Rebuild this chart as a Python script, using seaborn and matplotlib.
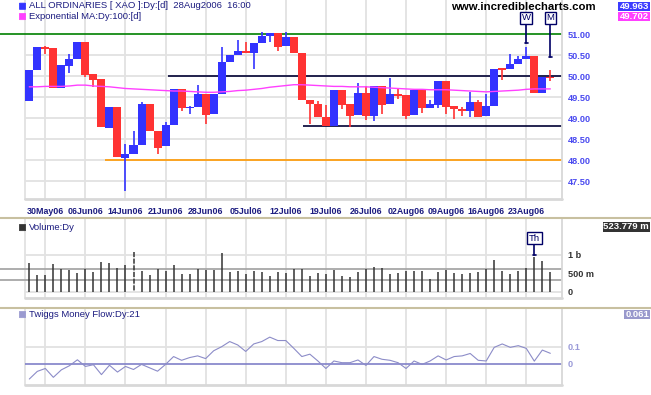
import numpy as np
import pandas as pd
import matplotlib.pyplot as plt
import matplotlib.patches as mpatches
from matplotlib.lines import Line2D
import seaborn as sns

sns.set_theme(style="white")
plt.rcParams["font.family"] = ["Liberation Sans", "DejaVu Sans"]

# ASX trading days 26 May 2006 - 28 Aug 2006 (12 Jun holiday)
dates = pd.bdate_range("2006-05-26", "2006-08-28")
dates = dates[dates != pd.Timestamp("2006-06-12")]
day_labels = list(dates.strftime("%d%b%y"))

tick_labels = ["30May06", "06Jun06", "14Jun06", "21Jun06", "28Jun06", "05Jul06",
               "12Jul06", "19Jul06", "26Jul06", "02Aug06", "09Aug06", "16Aug06",
               "23Aug06"]

opens = [49.42, 50.15, 50.68, 50.67, 49.72, 50.25, 50.41, 50.82, 50.06, 49.94,
         48.77, 49.27, 48.06, 48.15, 48.37, 49.34, 48.70, 48.33, 48.84, 49.69,
         49.25, 49.28, 49.58, 49.11, 49.58, 50.34, 50.50, 50.60, 50.55, 50.79,
         50.95, 51.03, 50.72, 50.94, 50.56, 49.44, 49.34, 49.03, 48.82, 49.67,
         49.34, 49.08, 49.60, 49.06, 49.77, 49.34, 49.58, 49.56, 49.08, 49.67,
         49.25, 49.32, 49.89, 49.29, 49.22, 49.18, 49.39, 49.06, 49.29, 50.17,
         50.17, 50.29, 50.41, 50.48, 49.60, 49.98]
closes = [50.15, 50.70, 50.66, 49.72, 50.27, 50.41, 50.82, 50.03, 49.92, 48.79,
          49.27, 48.09, 48.15, 48.37, 49.34, 48.70, 48.30, 48.84, 49.69, 49.25,
          49.27, 49.58, 49.09, 49.58, 50.34, 50.50, 50.60, 50.55, 50.79, 50.95,
          51.03, 50.70, 50.94, 50.56, 49.44, 49.33, 49.03, 48.82, 49.67, 49.32,
          49.06, 49.60, 49.06, 49.77, 49.32, 49.58, 49.54, 49.06, 49.67, 49.25,
          49.34, 49.89, 49.27, 49.21, 49.18, 49.39, 49.03, 49.29, 50.17, 50.16,
          50.29, 50.41, 50.48, 49.60, 49.98, 49.96]
highs = [50.15, 50.70, 50.71, 50.67, 50.27, 50.53, 50.82, 50.82, 50.06, 49.94,
         49.27, 49.27, 48.39, 48.70, 49.39, 49.34, 48.70, 48.91, 49.69, 49.69,
         49.29, 49.79, 49.58, 49.58, 50.70, 50.50, 50.87, 50.82, 50.79, 51.06,
         51.03, 51.03, 51.06, 50.94, 50.56, 49.44, 49.41, 49.32, 49.67, 49.67,
         49.34, 49.84, 49.77, 49.77, 49.77, 49.96, 49.72, 49.56, 49.67, 49.67,
         49.44, 49.89, 49.89, 49.29, 49.28, 49.63, 49.44, 49.58, 50.17, 50.20,
         50.53, 50.48, 50.70, 50.48, 49.98, 50.15]
lows = [49.42, 50.15, 50.53, 49.72, 49.72, 50.08, 50.41, 49.99, 49.75, 48.79,
        48.77, 48.09, 47.28, 48.15, 48.37, 48.70, 48.15, 48.33, 48.84, 49.18,
        49.11, 49.28, 48.87, 49.11, 49.58, 50.34, 50.50, 50.55, 50.17, 50.79,
        50.82, 50.60, 50.72, 50.56, 49.44, 48.87, 49.03, 48.82, 48.82, 49.21,
        48.79, 49.08, 48.96, 48.94, 49.10, 49.34, 49.46, 48.98, 49.08, 49.13,
        49.25, 49.25, 49.11, 48.98, 49.06, 49.02, 49.03, 49.06, 49.29, 49.91,
        50.17, 50.29, 50.41, 49.60, 49.60, 49.89]
ema100 = [49.75, 49.75, 49.76, 49.76, 49.76, 49.77, 49.79, 49.79, 49.77, 49.76,
          49.75, 49.73, 49.71, 49.70, 49.69, 49.68, 49.67, 49.66, 49.65, 49.65,
          49.64, 49.63, 49.62, 49.62, 49.63, 49.64, 49.66, 49.67, 49.69, 49.71,
          49.74, 49.76, 49.78, 49.80, 49.80, 49.79, 49.78, 49.77, 49.76, 49.76,
          49.75, 49.75, 49.75, 49.74, 49.73, 49.72, 49.71, 49.70, 49.69, 49.69,
          49.68, 49.68, 49.68, 49.67, 49.66, 49.65, 49.64, 49.63, 49.64, 49.65,
          49.66, 49.67, 49.69, 49.70, 49.70, 49.70]
volume_m = [773, 445, 445, 745, 609, 591, 500, 609, 527, 800,
            773, 636, 727, 1073, 564, 445, 609, 564, 727, 473,
            473, 609, 591, 591, 1045, 536, 564, 473, 564, 545,
            418, 527, 509, 609, 609, 418, 500, 482, 591, 418,
            400, 527, 609, 664, 636, 473, 500, 564, 564, 564,
            336, 527, 591, 500, 473, 500, 527, 618, 864, 564,
            473, 564, 636, 936, 836, 524]
tmf = [-0.09, -0.045, -0.028, -0.08, -0.036, -0.012, 0.023, -0.016, -0.006, -0.064,
       -0.009, -0.049, -0.016, -0.034, -0.004, -0.024, -0.044, -0.004, 0.042, 0.02,
       0.036, 0.046, 0.03, 0.076, 0.10, 0.13, 0.11, 0.072, 0.116, 0.13,
       0.156, 0.136, 0.136, 0.09, 0.042, 0.056, 0.016, -0.028, 0.016, 0.006,
       0.006, 0.022, -0.01, 0.042, 0.026, 0.02, 0.006, -0.028, 0.016, -0.004,
       0.016, 0.046, 0.022, 0.042, 0.046, 0.06, 0.02, 0.016, 0.096, 0.116,
       0.096, 0.106, 0.09, 0.015, 0.08, 0.061]

# drawn horizontal lines: (price, first day)
h_lines = [(51.00, None, "#008000"), (50.00, 17.3, "#000033"),
           (48.82, 34.2, "#000033"), (48.00, 9.5, "#ff9900")]
vol_lines = [610, 311]

x = np.arange(len(dates))
tick_idx = [day_labels.index(t) for t in tick_labels]

W_PX, H_PX = 651, 395
STEP, X_FIRST = 8.016, 29.3
XL = (-X_FIRST / STEP, (562 - X_FIRST) / STEP)
X0 = (25 - X_FIRST) / STEP
GRID = "#e2e2e2"
NAVY = "#1c1c80"


def fx(px):
    return px / W_PX


def fy(py):
    return 1 - py / H_PX


fig = plt.figure(figsize=(6.51, 3.95), dpi=100)
fig.patch.set_facecolor("white")

ax_p = fig.add_axes([0, fy(200), fx(562), 200 / H_PX])
ax_v = fig.add_axes([0, fy(298), fx(562), 79 / H_PX])
ax_t = fig.add_axes([0, fy(385), fx(562), 77 / H_PX])


def panel(ax, ylim, hgrid, ticks, labels, color):
    ax.set_xlim(XL)
    ax.set_ylim(ylim)
    ax.set_facecolor("white")
    for s in ax.spines.values():
        s.set_visible(False)
    ax.spines["right"].set_visible(True)
    ax.spines["right"].set_color("#d8d8d8")
    ax.spines["right"].set_linewidth(1.3)
    for t in tick_idx:
        ax.axvline(t, color=GRID, lw=1.3, zorder=0)
    ax.axvline(X0, color=GRID, lw=1.3, zorder=0)
    ax.hlines(hgrid, X0, XL[1], color=GRID, lw=1.3, zorder=0)
    ax.plot([25 / 562, 1], [0.004, 0.004], transform=ax.transAxes,
            color="#d8d8d8", lw=2, clip_on=False, zorder=1)
    ax.yaxis.tick_right()
    ax.set_yticks(ticks, labels)
    ax.tick_params(axis="y", length=0, pad=4, labelsize=6.6, labelcolor=color)
    for lbl in ax.get_yticklabels():
        lbl.set_fontweight("bold")
    ax.set_xticks(tick_idx)
    ax.tick_params(axis="x", length=0, labelbottom=False)
    ax.set_xlabel("")
    ax.set_ylabel("")


# ---- price panel ----
price_ticks = [47.5, 48.0, 48.5, 49.0, 49.5, 50.0, 50.5, 51.0]
panel(ax_p, (47.055, 51.817), price_ticks[:-1], price_ticks,
      ["%.2f" % p for p in price_ticks], "#4a4af0")
ax_p.set_xticks(tick_idx, tick_labels)
ax_p.tick_params(axis="x", labelbottom=True, pad=5, labelsize=6.4,
                 labelcolor=NAVY)
for lbl in ax_p.get_xticklabels():
    lbl.set_fontweight("bold")

for level, start, col in h_lines:
    x_start = XL[0] if start is None else start
    ax_p.hlines(level, x_start, XL[1], color=col, lw=1.2, zorder=2)

o = np.array(opens)
c = np.array(closes)
up = c >= o
cols = np.where(up, "#3333ff", "#ff3333")
ax_p.vlines(x, lows, highs, colors=cols, lw=1.2, zorder=3)
body_low = np.minimum(o, c)
body_h = np.maximum(np.abs(c - o), 0.03)
ax_p.bar(x, body_h, bottom=body_low, width=1.0, color=cols, lw=0, zorder=4)

sns.lineplot(x=x, y=ema100, ax=ax_p, color="#ff40ff", lw=1.0, zorder=5,
             legend=False)
ax_p.set_xlabel("")
ax_p.set_ylabel("")


def flag(ax, xi, y_box, y_end, text, half_h):
    ax.plot([xi, xi], [y_box - half_h, y_end], color="#000066", lw=1.2, zorder=6)
    ax.plot([xi - 0.2, xi + 0.2], [y_end, y_end], color="#000066", lw=1.2, zorder=6)
    ax.text(xi, y_box, text, ha="center", va="center", fontsize=6.8,
            color="#000066", zorder=7,
            bbox=dict(boxstyle="square,pad=0.18", fc="white", ec="#000066", lw=1))


flag(ax_p, 62, 51.395, 50.786, "W", 0.12)
flag(ax_p, 65, 51.395, 50.45, "M", 0.12)

# ---- volume panel ----
panel(ax_v, (-172, 1981), [0, 1000], [0, 500, 1000], ["0", "500 m", "1 b"],
      "#333333")
ax_v.hlines(vol_lines, XL[0], XL[1], color="#a0a0a0", lw=1.2, zorder=2)
ax_v.vlines(x, 0, volume_m, colors="#333333", lw=1.1, zorder=3)
ax_v.vlines(13, 0, volume_m[13], colors="white", lw=1.2, zorder=3,
            linestyles=(0, (1, 3)))
flag(ax_v, 63, 1463, volume_m[63] + 60, "Th", 150)

# ---- twiggs money flow panel ----
panel(ax_t, (-0.125, 0.327), [0.1], [0, 0.1], ["0", "0.1"], "#9a9ad8")
ax_t.hlines(0, X0, XL[1], color="#8080c8", lw=1.2, zorder=2)
sns.lineplot(x=x, y=tmf, ax=ax_t, color="#8c8cc8", lw=0.8, zorder=3,
             legend=False)
ax_t.set_xlabel("")
ax_t.set_ylabel("")

# ---- panel separators ----
for yy in (218.5, 308.2):
    fig.add_artist(Line2D([0, 1], [fy(yy), fy(yy)], transform=fig.transFigure,
                          color="#c8c0a0", lw=1.5))

# ---- headers ----
def marker(px, py, col):
    fig.add_artist(mpatches.FancyBboxPatch(
        (fx(px), fy(py + 3)), 5 / W_PX, 5.5 / H_PX, transform=fig.transFigure,
        boxstyle="round,pad=0.001", fc=col, ec=col, lw=0.5))


marker(20, 6, "#3333ff")
fig.text(fx(29), fy(6), "ALL ORDINARIES [ XAO ]:Dy:[d]  28Aug2006  16:00",
         fontsize=6.8, color=NAVY, va="center", ha="left")
marker(20, 16.3, "#ff40ff")
fig.text(fx(29), fy(16.3), "Exponential MA:Dy:100:[d]",
         fontsize=6.8, color=NAVY, va="center", ha="left")
fig.text(fx(451), fy(7.5), "www.incrediblecharts.com", fontsize=8.2,
         fontweight="bold", color="black", va="center", ha="left")

marker(20, 227.3, "#333333")
fig.text(fx(29), fy(227.3), "Volume:Dy", fontsize=6.8, color=NAVY,
         va="center", ha="left")
marker(20, 314.3, "#9a9ad0")
fig.text(fx(29), fy(314.3), "Twiggs Money Flow:Dy:21", fontsize=6.8,
         color=NAVY, va="center", ha="left")


# ---- last value boxes ----
def value_box(x_left, y_top, y_bot, text, col):
    fig.add_artist(mpatches.Rectangle((fx(x_left), fy(y_bot)),
                                      (650 - x_left) / W_PX, (y_bot - y_top) / H_PX,
                                      transform=fig.transFigure, fc=col, ec="none"))
    fig.text(fx(649), fy((y_top + y_bot) / 2), text, fontsize=6.8,
             fontweight="bold", color="white", ha="right", va="center")


value_box(618, 2, 11.2, "%.3f" % 49.963, "#3c3cff")
value_box(618, 11.8, 21, "%.3f" % 49.702, "#ff40ff")
value_box(603, 221.7, 231.7, "523.779 m", "#333333")
value_box(624, 310, 319.3, "0.061", "#9999cc")

fig.savefig("out.png", dpi=100, facecolor="white")
